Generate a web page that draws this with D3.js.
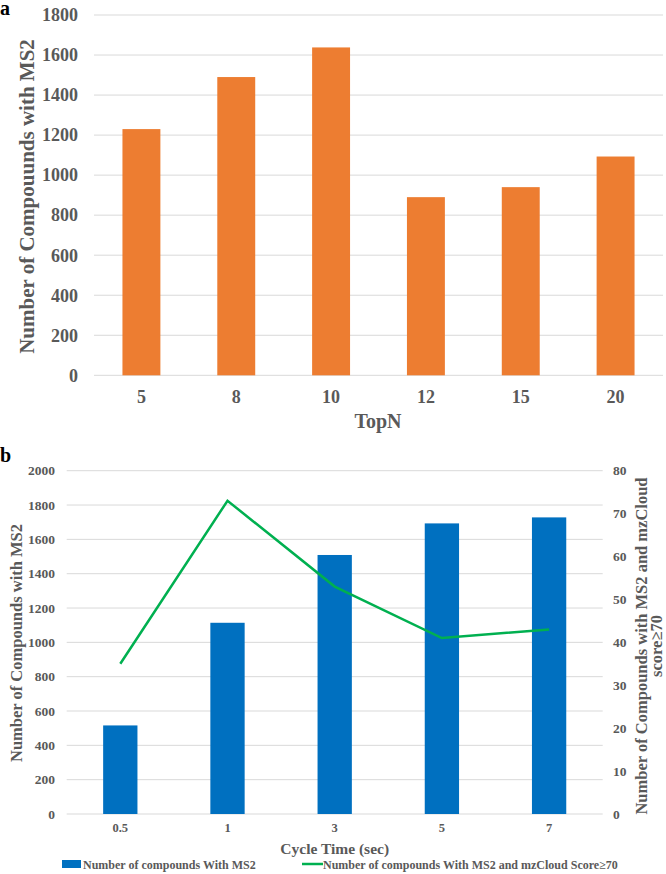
<!DOCTYPE html>
<html>
<head>
<meta charset="utf-8">
<script src="https://cdn.jsdelivr.net/npm/d3@7"></script>
<style>
  body { margin: 0; background: #fff; }
  svg text { font-family: "Liberation Serif", "Times New Roman", serif; font-weight: bold; }
</style>
</head>
<body>
<svg id="chart" width="666" height="874"></svg>
<script>
const width = 666;
const height = 874;

// panel a data
const topN = ["5", "8", "10", "12", "15", "20"];
const topNCounts = [1230, 1490, 1638, 890, 940, 1093];
const topNTicks = [0, 200, 400, 600, 800, 1000, 1200, 1400, 1600, 1800];

// panel b data
const cycleTimes = ["0.5", "1", "3", "5", "7"];
const cycleCounts = [516, 1114, 1509, 1693, 1728];
const cycleScore70 = [35, 73, 53, 41, 43];
const leftTicks = [0, 200, 400, 600, 800, 1000, 1200, 1400, 1600, 1800, 2000];
const rightTicks = [0, 10, 20, 30, 40, 50, 60, 70, 80];

const textColor = "#595959";
const gridColor = "#d9d9d9";

const svg = d3.select("#chart")
  .attr("viewBox", [0, 0, width, height]);

// ---------- panel a ----------
const ga = svg.append("g");

const xa = d3.scaleBand().domain(topN).range([94, 663]).paddingInner(0.6).paddingOuter(0.3);
const ya = d3.scaleLinear().domain([0, 1800]).range([375.3, 15]);

ga.append("g")
  .selectAll("line")
  .data(topNTicks)
  .join("line")
    .attr("x1", 94).attr("x2", 663)
    .attr("y1", d => ya(d)).attr("y2", d => ya(d))
    .attr("stroke", gridColor).attr("stroke-width", 1);

ga.append("g")
  .selectAll("rect")
  .data(topN)
  .join("rect")
    .attr("x", d => xa(d))
    .attr("width", xa.bandwidth())
    .attr("y", (d, i) => ya(topNCounts[i]))
    .attr("height", (d, i) => ya(0) - ya(topNCounts[i]))
    .attr("fill", "#ED7D31");

ga.append("g")
  .selectAll("text")
  .data(topNTicks)
  .join("text")
    .attr("x", 78).attr("y", d => ya(d))
    .attr("dy", "0.35em")
    .attr("text-anchor", "end")
    .attr("font-size", 18)
    .attr("fill", textColor)
    .text(d => d);

ga.append("g")
  .selectAll("text")
  .data(topN)
  .join("text")
    .attr("x", d => xa(d) + xa.bandwidth() / 2)
    .attr("y", 397)
    .attr("dy", "0.35em")
    .attr("text-anchor", "middle")
    .attr("font-size", 18)
    .attr("fill", textColor)
    .text(d => d);

ga.append("text")
  .attr("x", 378).attr("y", 428)
  .attr("text-anchor", "middle")
  .attr("font-size", 20)
  .attr("fill", textColor)
  .text("TopN");

ga.append("text")
  .attr("transform", "translate(27,196.5) rotate(-90)")
  .attr("dy", "0.35em")
  .attr("text-anchor", "middle")
  .attr("font-size", 21)
  .attr("fill", textColor)
  .text("Number of Compouunds with MS2");

svg.append("text")
  .attr("x", 0).attr("y", 15)
  .attr("font-size", 20)
  .attr("fill", "#000")
  .text("a");

// ---------- panel b ----------
const gb = svg.append("g");

const xb = d3.scaleBand().domain(cycleTimes).range([66.7, 602.7]).paddingInner(0.68).paddingOuter(0.34);
const yl = d3.scaleLinear().domain([0, 2000]).range([814, 470.7]);
const yr = d3.scaleLinear().domain([0, 80]).range([814, 470.7]);

gb.append("g")
  .selectAll("line")
  .data(leftTicks)
  .join("line")
    .attr("x1", 66.7).attr("x2", 602.7)
    .attr("y1", d => yl(d)).attr("y2", d => yl(d))
    .attr("stroke", gridColor).attr("stroke-width", 1);

gb.append("g")
  .selectAll("rect")
  .data(cycleTimes)
  .join("rect")
    .attr("x", d => xb(d))
    .attr("width", xb.bandwidth())
    .attr("y", (d, i) => yl(cycleCounts[i]))
    .attr("height", (d, i) => yl(0) - yl(cycleCounts[i]))
    .attr("fill", "#0070C0");

const line = d3.line()
  .x((d, i) => xb(cycleTimes[i]) + xb.bandwidth() / 2)
  .y(d => yr(d));

gb.append("path")
  .datum(cycleScore70)
  .attr("d", line)
  .attr("fill", "none")
  .attr("stroke", "#00B050")
  .attr("stroke-width", 2.5);

gb.append("g")
  .selectAll("text")
  .data(leftTicks)
  .join("text")
    .attr("x", 55).attr("y", d => yl(d))
    .attr("dy", "0.35em")
    .attr("text-anchor", "end")
    .attr("font-size", 13.5)
    .attr("fill", textColor)
    .text(d => d);

gb.append("g")
  .selectAll("text")
  .data(rightTicks)
  .join("text")
    .attr("x", 613).attr("y", d => yr(d))
    .attr("dy", "0.35em")
    .attr("text-anchor", "start")
    .attr("font-size", 13.5)
    .attr("fill", textColor)
    .text(d => d);

gb.append("g")
  .selectAll("text")
  .data(cycleTimes)
  .join("text")
    .attr("x", d => xb(d) + xb.bandwidth() / 2)
    .attr("y", 828)
    .attr("dy", "0.35em")
    .attr("text-anchor", "middle")
    .attr("font-size", 12.5)
    .attr("fill", textColor)
    .text(d => d);

gb.append("text")
  .attr("x", 334.7).attr("y", 854)
  .attr("text-anchor", "middle")
  .attr("font-size", 15.5)
  .attr("fill", textColor)
  .text("Cycle Time (sec)");

gb.append("text")
  .attr("transform", "translate(16,643) rotate(-90)")
  .attr("dy", "0.35em")
  .attr("text-anchor", "middle")
  .attr("font-size", 16.5)
  .attr("fill", textColor)
  .text("Number of Compounds with MS2");

const rightTitle = gb.append("text")
  .attr("transform", "translate(641,646) rotate(-90)")
  .attr("text-anchor", "middle")
  .attr("font-size", 16.5)
  .attr("fill", textColor);
rightTitle.append("tspan").attr("x", 0).attr("dy", "0.35em").text("Number of Compounds with MS2 and mzCloud");
rightTitle.append("tspan").attr("x", 0).attr("dy", "0.95em").text("score\u226570");

svg.append("text")
  .attr("x", 0).attr("y", 462)
  .attr("font-size", 20)
  .attr("fill", "#000")
  .text("b");

// legend
const legend = gb.append("g");
legend.append("rect")
  .attr("x", 62).attr("y", 860).attr("width", 19).attr("height", 8)
  .attr("fill", "#0070C0");
legend.append("text")
  .attr("x", 83).attr("y", 864.5)
  .attr("dy", "0.35em")
  .attr("font-size", 12)
  .attr("fill", textColor)
  .text("Number of compounds With MS2");
legend.append("line")
  .attr("x1", 302).attr("x2", 323)
  .attr("y1", 864).attr("y2", 864)
  .attr("stroke", "#00B050").attr("stroke-width", 2.5);
legend.append("text")
  .attr("x", 323).attr("y", 864.5)
  .attr("dy", "0.35em")
  .attr("font-size", 12)
  .attr("fill", textColor)
  .text("Number of compounds With MS2 and mzCloud Score\u226570");
</script>
</body>
</html>
